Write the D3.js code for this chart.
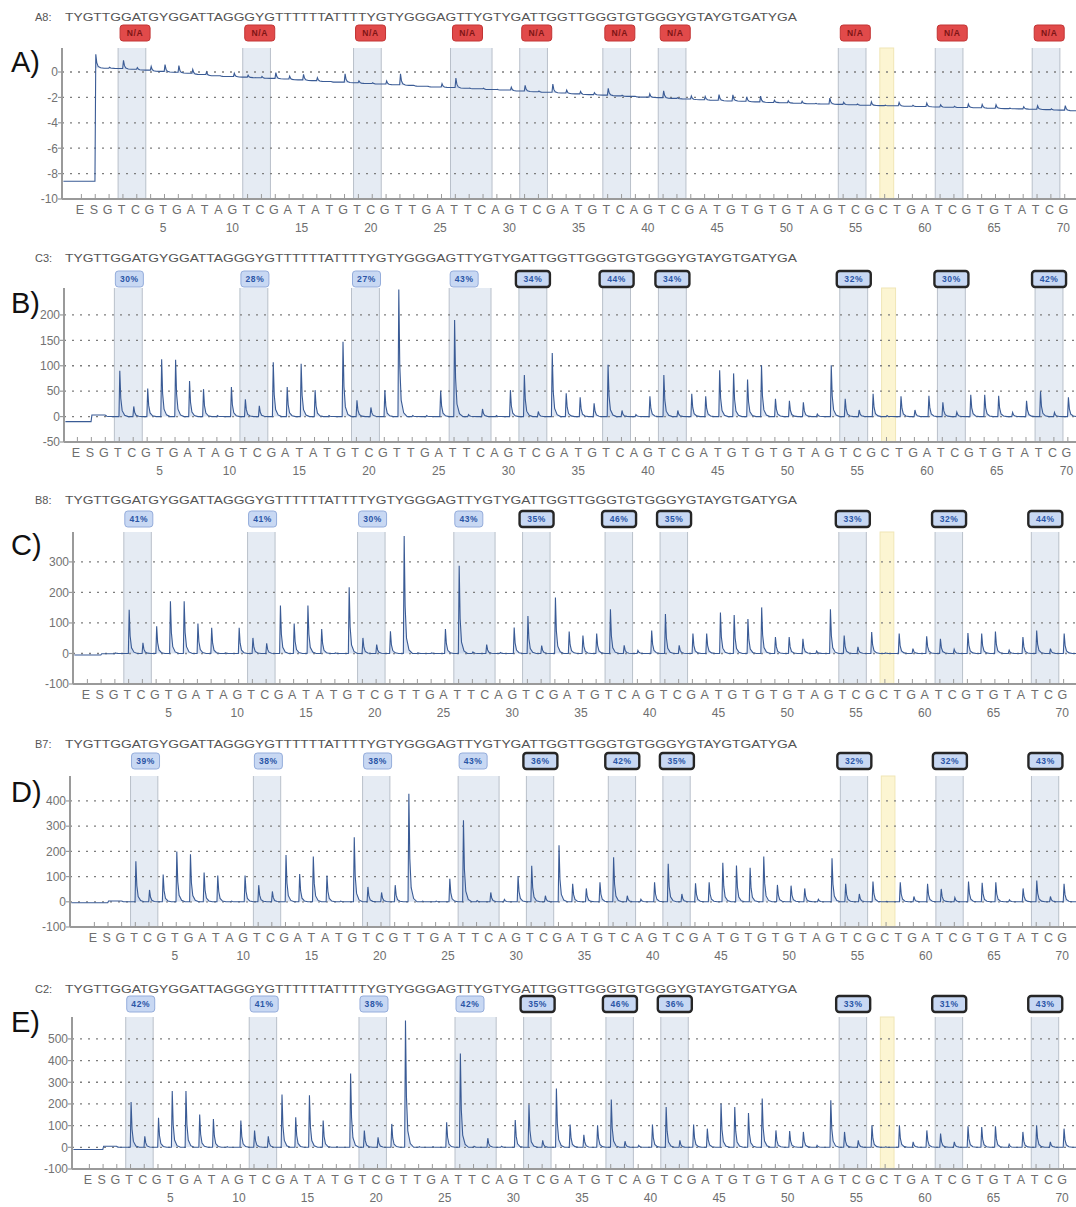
<!DOCTYPE html>
<html><head><meta charset="utf-8">
<script src="https://cdn.jsdelivr.net/npm/d3@7"></script>
<style>body{margin:0;background:#fff}svg{display:block}text{font-family:"Liberation Sans",Arial,sans-serif}</style>
</head><body><svg id="c" width="1076" height="1207"></svg>
<script>
// ---------- DATA ----------
const dispensation = ("ESGTCGTGAT"+"AGTCGATATG"+"TCGTTGATTC"+"AGTCGATGTC"+"AGTCGATGTG"+"TGTAGTCGCT"+"GATCGTGTAT"+"CG").split("");
const sequence = "TYGTTGGATGYGGATTAGGGYGTTTTTTATTTTYGTYGGGAGTTYGTYGATTGGTTGGGTGTGGGYGTAYGTGATYGA";
const sampleNames = ["A8:", "C3:", "B8:", "B7:", "C2:"];
const panelLetters = ["A)", "B)", "C)", "D)", "E)"];
const cpgStart = [3, 12, 20, 27, 32, 38, 42, 55, 62, 69];
const cpgEnd   = [4, 13, 21, 29, 33, 39, 43, 56, 63, 70];
const controlPos = [58];
const numberTicks = [5, 10, 15, 20, 25, 30, 35, 40, 45, 50, 55, 60, 65, 70];

const badgesA = ["N/A","N/A","N/A","N/A","N/A","N/A","N/A","N/A","N/A","N/A"];
const badgesB = ["30%","28%","27%","43%","34%","44%","34%","32%","30%","42%"];
const badgesC = ["41%","41%","30%","43%","35%","46%","35%","33%","32%","44%"];
const badgesD = ["39%","38%","38%","43%","36%","42%","35%","32%","32%","43%"];
const badgesE = ["42%","41%","38%","42%","35%","46%","36%","33%","31%","43%"];
const badgeKind = ["ok","ok","ok","ok","check","check","check","check","check","check"];

const yTicksA = [0, -2, -4, -6, -8, -10];
const yTicksB = [200, 150, 100, 50, 0, -50];
const yTicksC = [300, 200, 100, 0, -100];
const yTicksD = [400, 300, 200, 100, 0, -100];
const yTicksE = [500, 400, 300, 200, 100, 0, -100];

const baseA = [-8.6,0.3,0.28,0.22,0.15,0.05,-0.02,-0.1,-0.2,-0.3,-0.35,-0.4,-0.45,-0.5,-0.55,-0.62,-0.68,-0.75,-0.8,-0.85,
  -0.9,-0.95,-1.0,-1.05,-1.12,-1.18,-1.22,-1.28,-1.32,-1.38,-1.42,-1.5,-1.55,-1.6,-1.65,-1.72,-1.78,-1.82,-1.88,-1.92,
  -1.98,-2.02,-2.08,-2.12,-2.18,-2.22,-2.28,-2.3,-2.35,-2.4,-2.42,-2.46,-2.5,-2.52,-2.55,-2.58,-2.62,-2.65,-2.66,-2.7,
  -2.72,-2.75,-2.78,-2.8,-2.82,-2.85,-2.88,-2.9,-2.93,-2.96,-3.0,-3.05];
const peaksA = [0,1.1,0.1,0.7,0.2,0.4,0.6,0.6,0.4,0.3,0.05,0.3,0.2,0.15,0.5,0.3,0.5,0.3,0.05,0.7,
  0.2,0.1,0.3,0.9,0.05,0.05,0.3,0.8,0.05,0.1,0.05,0.3,0.5,0.1,0.7,0.3,0.25,0.2,0.6,0.1,
  0.05,0.3,0.6,0.1,0.3,0.3,0.5,0.5,0.4,0.5,0.2,0.2,0.2,0.05,0.5,0.2,0.1,0.3,0.05,0.3,
  0.1,0.3,0.2,0.1,0.3,0.3,0.3,0.05,0.2,0.3,0.1,0.4];

const baseB = [-10, 3];
const peaksB = [0,0,2,90,20,55,113,112,70,54,2,58,34,21,107,58,104,52,2,147,
  32,18,52,250,2,2,51,190,4,15,2,52,82,10,125,46,38,26,102,12,
  4,40,82,12,45,40,91,85,73,101,35,31,28,5,101,35,13,45,2,40,
  13,41,28,9,43,43,41,8,31,50,8,38];

const baseC = [-5, -1];
const peaksC = [0,0,2,143,35,89,171,171,98,84,2,84,51,33,157,98,157,80,2,217,
  51,29,73,385,2,2,80,287,5,29,3,85,123,26,183,72,59,65,145,27,
  10,75,129,27,65,65,134,126,113,151,54,54,48,8,145,59,22,70,2,65,
  16,56,48,14,67,65,72,11,54,75,16,65];

const baseD = [-4, 3];
const peaksD = [0,0,2,161,47,108,199,189,116,104,3,104,66,41,186,110,180,104,3,256,
  59,37,66,429,3,3,91,323,5,37,9,102,143,24,224,71,53,77,177,24,
  10,77,151,31,73,77,155,144,135,180,67,64,53,10,173,71,31,80,2,77,
  21,71,51,17,80,75,77,8,53,84,21,71];

const baseE = [-10, 5];
const peaksE = [0,0,2,209,51,136,260,260,151,131,3,124,77,51,243,139,240,124,3,340,
  77,46,108,585,3,3,116,433,5,42,5,126,197,32,271,105,58,102,220,28,
  9,105,186,32,105,86,202,186,158,225,78,75,71,9,217,71,32,102,2,102,
  25,78,63,25,97,94,97,14,71,102,25,86];

// ---------- LAYOUT ----------
const panels = [
  {name:sampleNames[0], letter:panelLetters[0], badges:badgesA, red:true, yTicks:yTicksA, base:baseA, peaks:peaksA,
   axisX:62, x0:80, step:13.85, top:48, bottom:199, dom:[-10,1.89], seqY:21, badgeY:25, labelY:72},
  {name:sampleNames[1], letter:panelLetters[1], badges:badgesB, yTicks:yTicksB, base:baseB, peaks:peaksB,
   axisX:64, x0:76, step:13.95, top:288, bottom:442, dom:[-50,253], seqY:262, badgeY:271, labelY:313},
  {name:sampleNames[2], letter:panelLetters[2], badges:badgesC, yTicks:yTicksC, base:baseC, peaks:peaksC,
   axisX:73, x0:86, step:13.75, top:532, bottom:684, dom:[-100,398], seqY:504, badgeY:511, labelY:555},
  {name:sampleNames[3], letter:panelLetters[3], badges:badgesD, yTicks:yTicksD, base:baseD, peaks:peaksD,
   axisX:70, x0:93, step:13.65, top:776, bottom:927, dom:[-100,499], seqY:748, badgeY:753, labelY:802},
  {name:sampleNames[4], letter:panelLetters[4], badges:badgesE, yTicks:yTicksE, base:baseE, peaks:peaksE,
   axisX:72, x0:88, step:13.72, top:1017, bottom:1169, dom:[-100,601], seqY:993, badgeY:996, labelY:1032},
];

const svg = d3.select("#c");
const W = 1076;

panels.forEach(P => {
  const g = svg.append("g");
  const n = dispensation.length;
  const x = d3.scaleLinear().domain([0, n - 1]).range([P.x0, P.x0 + (n - 1) * P.step]);
  const y = d3.scaleLinear().domain(P.dom).range([P.bottom, P.top]);
  const baseAt = i => (P.base[i] !== undefined ? P.base[i] : 0);

  // CpG regions
  cpgStart.forEach((s, k) => {
    const x1 = x(s - 0.25), x2 = x(cpgEnd[k] + 0.75);
    g.append("rect").attr("x", x1).attr("y", P.top).attr("width", x2 - x1).attr("height", P.bottom - P.top)
      .attr("fill", "#e5ebf3");
    [x1, x2].forEach(xx => g.append("line").attr("x1", xx).attr("x2", xx).attr("y1", P.top).attr("y2", P.bottom)
      .attr("stroke", "#b9c0ca").attr("stroke-width", 1));
  });
  controlPos.forEach(c => {
    const x1 = x(c - 0.25), x2 = x(c + 0.75);
    g.append("rect").attr("x", x1).attr("y", P.top).attr("width", x2 - x1).attr("height", P.bottom - P.top)
      .attr("fill", "#fcf5d2").attr("stroke", "#f0e6b6").attr("stroke-width", 1);
  });

  // gridlines
  P.yTicks.filter(t => t !== P.dom[0]).forEach(t => {
    g.append("line").attr("x1", P.axisX).attr("x2", W).attr("y1", y(t)).attr("y2", y(t))
      .attr("stroke", "#7d7d7d").attr("stroke-width", 1.3).attr("stroke-dasharray", "2,6");
  });

  // trace
  const pts = [];
  pts.push({i: (P.axisX - P.x0) / P.step + 0.1, v: baseAt(0), b: baseAt(0)});
  for (let i = 0; i < n; i++) {
    const b0 = i > 0 ? baseAt(i - 1) : baseAt(0);
    const bi = baseAt(i), h = P.peaks[i];
    const a = i + 0.14;
    pts.push({i: a - 0.06, v: b0, b: b0});
    pts.push({i: a, v: bi + h, b: bi});
    pts.push({i: a + 0.07, v: bi + h * 0.4, b: bi});
    pts.push({i: a + 0.17, v: bi + h * 0.13, b: bi});
    pts.push({i: a + 0.35, v: bi + h * 0.03, b: bi});
    pts.push({i: a + 0.6, v: bi, b: bi});
  }
  pts.push({i: x.invert(W), v: baseAt(n - 1), b: baseAt(n - 1)});

  g.append("path").datum(pts)
    .attr("d", d3.area().x(d => x(d.i)).y0(d => y(d.b)).y1(d => y(d.v)))
    .attr("fill", "#a9bde2").attr("opacity", 0.4);
  g.append("path").datum(pts)
    .attr("d", d3.line().x(d => x(d.i)).y(d => y(d.v)))
    .attr("fill", "none").attr("stroke", "#3a5b95").attr("stroke-width", 1.1);

  // axes
  g.append("line").attr("x1", P.axisX).attr("x2", P.axisX).attr("y1", P.top).attr("y2", P.bottom)
    .attr("stroke", "#9a9a9a").attr("stroke-width", 2);
  g.append("line").attr("x1", P.axisX).attr("x2", W).attr("y1", P.bottom).attr("y2", P.bottom)
    .attr("stroke", "#9a9a9a").attr("stroke-width", 2);
  P.yTicks.forEach(t => {
    g.append("line").attr("x1", P.axisX - 4).attr("x2", P.axisX).attr("y1", y(t)).attr("y2", y(t))
      .attr("stroke", "#9a9a9a").attr("stroke-width", 1.2);
    g.append("text").attr("x", P.axisX - 4).attr("y", y(t)).attr("dy", "0.36em").attr("text-anchor", "end")
      .attr("font-size", 12).attr("fill", "#727272").text(t);
  });
  dispensation.forEach((d, i) => {
    g.append("line").attr("x1", x(i + 0.1)).attr("x2", x(i + 0.1)).attr("y1", P.bottom).attr("y2", P.bottom - 5)
      .attr("stroke", "#9a9a9a").attr("stroke-width", 1);
    g.append("text").attr("x", x(i)).attr("y", P.bottom + 15).attr("text-anchor", "middle")
      .attr("font-size", 12.5).attr("fill", "#6e6e6e").text(d);
  });
  numberTicks.forEach(t => {
    g.append("text").attr("x", x(t + 1)).attr("y", P.bottom + 33).attr("text-anchor", "middle")
      .attr("font-size", 12).attr("fill", "#6e6e6e").text(t);
  });

  // badges
  P.badges.forEach((b, k) => {
    const left = x(cpgStart[k] - 0.25);
    let bx, bw, fill, stroke, sw, tc;
    if (P.red) { bx = left + 2; bw = 30; fill = "#e14a4a"; stroke = "#c23434"; sw = 1; tc = "#7e1515"; }
    else if (badgeKind[k] === "ok") { bx = left + 1; bw = 28; fill = "#c8d8f3"; stroke = "#95addb"; sw = 1; tc = "#2a55a6"; }
    else { bx = left - 3; bw = 34; fill = "#c8d8f3"; stroke = "#262626"; sw = 2.4; tc = "#2a55a6"; }
    g.append("rect").attr("x", bx).attr("y", P.badgeY).attr("width", bw).attr("height", 16).attr("rx", 3)
      .attr("fill", fill).attr("stroke", stroke).attr("stroke-width", sw);
    g.append("text").attr("x", bx + bw / 2).attr("y", P.badgeY + 8).attr("dy", "0.35em").attr("text-anchor", "middle")
      .attr("font-family", "DejaVu Sans Mono").attr("font-size", 8.5).attr("font-weight", "bold")
      .attr("letter-spacing", 0.6).attr("fill", tc).text(b);
  });

  // header
  g.append("text").attr("x", 35).attr("y", P.seqY).attr("font-size", 11).attr("fill", "#555").text(P.name);
  g.append("text").attr("x", 65).attr("y", P.seqY).attr("font-size", 11.5).attr("fill", "#555")
    .attr("textLength", 732).attr("lengthAdjust", "spacingAndGlyphs").text(sequence);
  g.append("text").attr("x", 11).attr("y", P.labelY).attr("font-size", 29).attr("fill", "#111").text(P.letter);
});
</script></body></html>
